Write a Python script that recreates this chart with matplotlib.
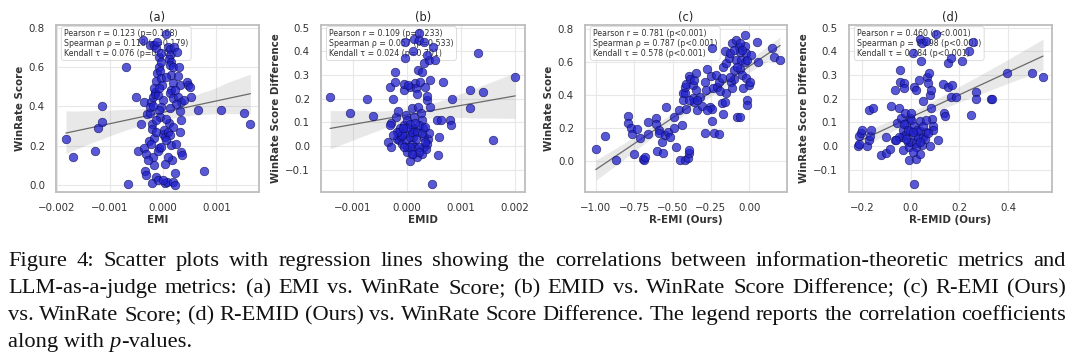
import matplotlib
matplotlib.use("Agg")
import matplotlib.pyplot as plt
import numpy as np
import seaborn as sns

sns.set_theme(style="whitegrid")
plt.rcParams["font.family"] = ["DejaVu Sans"]

# ---------------- data ----------------
# (a) EMI (x in units of 1e-3) vs WinRate Score
emi = np.array([
    -1.825, -1.70, -1.28, -1.23, -1.14, -1.14, -0.70, -0.65, -0.51, -0.48,
    -0.41, -0.375, -0.36, -0.36, -0.33, -0.34, -0.325, -0.30, -0.27, -0.25,
    -0.22, -0.24, -0.20, -0.20, -0.20, -0.19, -0.175, -0.19, -0.17, -0.125,
    -0.094, -0.25, -0.175, -0.125, -0.075, -0.03, -0.11, -0.156, -0.156, -0.17,
    -0.125, -0.106, -0.075, -0.03, -0.06, -0.044, -0.0125, 0.0, -0.04, -0.075,
    -0.06, -0.075, -0.094, -0.03, 0.0, 0.02, 0.03, 0.044, 0.03, 0.075,
    0.06, 0.094, 0.125, 0.125, 0.11, 0.144, 0.1375, 0.19, 0.156, 0.19,
    0.156, 0.1375, 0.19, 0.11, 0.094, 0.125, 0.156, 0.175, 0.19, 0.22,
    0.23, 0.206, 0.26, 0.30, 0.28, 0.31, 0.28, 0.34, 0.325, 0.34,
    0.31, 0.33, 0.36, 0.44, 0.47, 0.50, 0.53, 0.39, 0.66, 0.76,
    1.08, 1.52, 1.64, 0.24, 0.25, -0.14, -0.22, -0.125, 0.05, 0.094,
    -0.28, 0.0, 0.06, 0.19, -0.19, -0.094, -0.075, 0.06, 0.22, 0.125,
]) * 1e-3
winrate_a = np.array([
    0.231, 0.142, 0.171, 0.291, 0.320, 0.400, 0.600, 0.002, 0.450, 0.171,
    0.309, 0.740, 0.421, 0.185, 0.159, 0.068, 0.051, 0.359, 0.224, 0.364,
    0.424, 0.398, 0.009, 0.309, 0.287, 0.450, 0.241, 0.142, 0.099, 0.039,
    0.022, 0.716, 0.715, 0.697, 0.655, 0.672, 0.732, 0.475, 0.463, 0.496,
    0.530, 0.569, 0.603, 0.629, 0.583, 0.544, 0.509, 0.432, 0.398, 0.381,
    0.347, 0.185, 0.171, 0.193, 0.258, 0.279, 0.244, 0.103, 0.010, 0.014,
    0.769, 0.706, 0.692, 0.663, 0.641, 0.629, 0.612, 0.603, 0.561, 0.518,
    0.484, 0.467, 0.441, 0.313, 0.270, 0.253, 0.202, 0.125, 0.014, 0.060,
    0.000, 0.706, 0.680, 0.603, 0.556, 0.509, 0.450, 0.424, 0.376, 0.333,
    0.270, 0.168, 0.150, 0.526, 0.509, 0.501, 0.450, 0.432, 0.381, 0.070,
    0.381, 0.369, 0.309, 0.415, 0.210, 0.270, 0.210, 0.330, 0.338, 0.142,
    0.125, 0.022, 0.227, 0.296, 0.402, 0.458, 0.492, 0.552, 0.484, 0.390,
])

# (b) EMID (x in units of 1e-3) vs WinRate Score Difference
emid = np.array([
    -1.42, -1.05, -0.73, -0.62, -0.32, -0.30, -0.31, -0.34, -0.30, -0.25,
    -0.22, -0.21, -0.20, -0.17, -0.185, -0.14, -0.15, -0.12, -0.11, -0.09,
    -0.06, -0.05, -0.03, -0.03, -0.06, -0.01, 0.0, -0.03, -0.01, 0.0,
    0.01, 0.06, 0.06, 0.09, 0.11, 0.14, 0.15, 0.17, 0.185, 0.12,
    0.14, 0.11, 0.09, 0.15, 0.12, 0.185, 0.20, 0.20, 0.22, 0.235,
    0.25, 0.26, 0.28, 0.30, 0.31, 0.28, 0.32, 0.32, 0.34, 0.37,
    0.38, 0.40, 0.37, 0.36, 0.42, 0.43, 0.43, 0.42, 0.48, 0.46,
    0.52, 0.56, 0.57, 0.60, 0.63, 0.67, 0.80, 0.81, 0.83, 1.17,
    1.17, 1.31, 1.41, 1.60, 2.01, 0.05, 0.09, 0.185, 0.235, 0.06,
    -0.05, -0.09, -0.185, 0.05, 0.14, 0.28, 0.37, 0.31, 0.22, 0.34,
    0.09, 0.17, 0.01, -0.07, -0.25, 0.03, 0.22, 0.28, 0.34, 0.15,
]) * 1e-3
diff_b = np.array([
    0.208, 0.138, 0.199, 0.128, 0.251, 0.099, 0.089, 0.018, -0.003, 0.199,
    0.269, 0.311, 0.124, 0.148, 0.032, 0.061, 0.025, 0.075, 0.039, 0.011,
    0.237, 0.262, 0.370, 0.441, 0.089, 0.131, 0.110, 0.054, 0.025, -0.003,
    -0.024, -0.062, 0.251, 0.159, 0.403, 0.451, 0.265, 0.244, 0.220, 0.075,
    0.061, 0.039, 0.011, -0.003, -0.031, -0.045, 0.166, 0.321, 0.448, 0.476,
    0.272, 0.138, 0.110, 0.075, 0.039, -0.031, 0.349, -0.003, 0.251, 0.194,
    0.211, 0.032, 0.011, -0.010, 0.363, 0.279, 0.166, 0.054, 0.420, -0.161,
    0.363, 0.110, -0.038, 0.039, 0.110, 0.272, 0.110, 0.089, 0.199, 0.159,
    0.239, 0.392, 0.230, 0.028, 0.290, 0.039, 0.061, 0.061, -0.003, -0.003,
    -0.003, 0.046, 0.061, 0.093, 0.124, 0.314, 0.385, 0.441, -0.024, 0.018,
    -0.031, 0.032, 0.075, 0.075, 0.046, 0.258, 0.089, 0.054, 0.082, 0.096,
])

# (c) R-EMI (Ours) vs WinRate Score
remi = np.array([
    -1.00, -0.94, -0.87, -0.79, -0.79, -0.77, -0.765, -0.75, -0.73, -0.71,
    -0.69, -0.685, -0.68, -0.66, -0.66, -0.61, -0.61, -0.60, -0.59, -0.59,
    -0.57, -0.56, -0.55, -0.54, -0.53, -0.515, -0.49, -0.49, -0.48, -0.455,
    -0.45, -0.44, -0.43, -0.43, -0.42, -0.42, -0.41, -0.42, -0.41, -0.40,
    -0.395, -0.39, -0.395, -0.385, -0.37, -0.37, -0.36, -0.36, -0.35, -0.345,
    -0.34, -0.32, -0.31, -0.29, -0.29, -0.28, -0.275, -0.255, -0.25, -0.245,
    -0.24, -0.24, -0.23, -0.235, -0.22, -0.21, -0.20, -0.19, -0.18, -0.18,
    -0.17, -0.17, -0.16, -0.16, -0.15, -0.135, -0.125, -0.12, -0.11, -0.11,
    -0.10, -0.09, -0.09, -0.10, -0.08, -0.06, -0.07, -0.06, -0.055, -0.06,
    -0.05, -0.04, -0.03, -0.03, -0.03, -0.025, -0.015, -0.02, -0.015, -0.015,
    0.0, 0.005, 0.01, 0.05, 0.055, 0.15, 0.16, 0.20, -0.08, -0.15,
    -0.20, -0.34, -0.275, -0.06, -0.10, -0.39, -0.045, -0.125,
])
winrate_c = np.array([
    0.070, 0.150, 0.008, 0.272, 0.231, 0.197, 0.166, 0.041, 0.191, 0.142,
    0.014, 0.004, 0.024, 0.238, 0.166, 0.258, 0.223, 0.061, 0.187, 0.171,
    0.116, 0.051, 0.156, 0.329, 0.177, 0.146, 0.268, 0.197, 0.085, 0.309,
    0.008, 0.217, 0.410, 0.370, 0.414, 0.451, 0.467, 0.008, 0.313, 0.020,
    0.045, 0.069, 0.516, 0.495, 0.380, 0.461, 0.359, 0.491, 0.430, 0.536,
    0.309, 0.390, 0.333, 0.481, 0.171, 0.430, 0.556, 0.329, 0.516, 0.313,
    0.684, 0.244, 0.171, 0.441, 0.522, 0.451, 0.481, 0.426, 0.502, 0.353,
    0.288, 0.573, 0.670, 0.359, 0.593, 0.623, 0.654, 0.481, 0.441, 0.715,
    0.552, 0.735, 0.613, 0.495, 0.264, 0.264, 0.694, 0.664, 0.613, 0.556,
    0.522, 0.441, 0.765, 0.603, 0.698, 0.654, 0.613, 0.502, 0.370, 0.339,
    0.461, 0.481, 0.644, 0.725, 0.603, 0.684, 0.634, 0.613, 0.573, 0.410,
    0.166, 0.370, 0.309, 0.715, 0.674, 0.370, 0.674, 0.512,
])

# (d) R-EMID (Ours) vs WinRate Score Difference
remid = np.array([
    -0.216, -0.21, -0.212, -0.203, -0.199, -0.18, -0.171, -0.168, -0.164, -0.171,
    -0.155, -0.12, -0.103, -0.103, -0.086, -0.079, -0.066, -0.062, -0.056, -0.048,
    -0.045, -0.042, -0.038, -0.037, -0.032, -0.032, -0.027, -0.025, -0.022, -0.021,
    -0.018, -0.011, -0.008, -0.007, -0.004, -0.004, 0.0, 0.003, 0.01, 0.012,
    0.016, 0.016, 0.021, 0.021, 0.023, 0.016, 0.026, 0.03, 0.034, 0.037,
    0.037, 0.04, 0.04, 0.044, 0.048, 0.048, 0.051, 0.051, 0.058, 0.062,
    0.064, 0.067, 0.071, 0.075, 0.078, 0.081, 0.085, 0.085, 0.089, 0.092,
    0.092, 0.103, 0.112, 0.133, 0.136, 0.14, 0.153, 0.153, 0.167, 0.171,
    0.167, 0.185, 0.212, 0.24, 0.256, 0.247, 0.267, 0.27, 0.331, 0.336,
    0.397, 0.50, 0.544, -0.025, 0.003, -0.011, 0.023, 0.071, -0.048, 0.051,
    0.01, 0.037, -0.018, 0.064, -0.059, 0.01,
])
diff_d = np.array([
    0.000, 0.008, 0.042, 0.056, 0.068, 0.000, 0.025, 0.042, 0.070, 0.152,
    0.159, -0.038, -0.028, 0.039, -0.010, 0.169, 0.028, 0.237, 0.099, 0.159,
    0.321, 0.272, 0.117, 0.037, 0.068, -0.017, 0.265, 0.244, 0.141, 0.046,
    0.093, 0.018, -0.059, -0.003, 0.065, 0.117, 0.110, 0.018, 0.394, 0.046,
    0.248, 0.085, 0.239, -0.052, 0.014, -0.161, 0.070, 0.039, 0.279, 0.451,
    0.107, 0.065, -0.031, 0.361, 0.004, 0.437, 0.192, 0.037, 0.032, 0.445,
    0.061, 0.290, 0.265, 0.310, 0.000, 0.218, 0.239, 0.163, 0.113, 0.085,
    0.070, 0.473, 0.028, 0.262, 0.138, 0.127, 0.248, 0.352, 0.370, 0.258,
    0.208, 0.208, 0.361, 0.403, 0.441, 0.131, 0.230, 0.201, 0.201, 0.201,
    0.310, 0.310, 0.290, 0.093, 0.138, 0.068, -0.003, 0.054, 0.039, 0.085,
    0.061, 0.018, 0.032, 0.110, 0.028, -0.024,
])

titles = ["(a)", "(b)", "(c)", "(d)"]
xlabels = ["EMI", "EMID", "R-EMI (Ours)", "R-EMID (Ours)"]
ylabels = ["WinRate Score", "WinRate Score Difference",
           "WinRate Score", "WinRate Score Difference"]
stats_text = [
    "Pearson r = 0.123 (p=0.168)\nSpearman ρ = 0.118 (p=0.179)\nKendall τ = 0.076 (p=0.206)",
    "Pearson r = 0.109 (p=0.233)\nSpearman ρ = 0.057 (p=0.533)\nKendall τ = 0.024 (p=0.701)",
    "Pearson r = 0.781 (p<0.001)\nSpearman ρ = 0.787 (p<0.001)\nKendall τ = 0.578 (p<0.001)",
    "Pearson r = 0.460 (p<0.001)\nSpearman ρ = 0.398 (p<0.001)\nKendall τ = 0.284 (p<0.001)",
]
xticks = [[-0.002, -0.001, 0.0, 0.001],
          [-0.001, 0.0, 0.001, 0.002],
          [-1.0, -0.75, -0.5, -0.25, 0.0],
          [-0.2, 0.0, 0.2, 0.4]]
yticks = [[0.0, 0.2, 0.4, 0.6, 0.8],
          [-0.1, 0.0, 0.1, 0.2, 0.3, 0.4, 0.5],
          [0.0, 0.2, 0.4, 0.6, 0.8],
          [-0.1, 0.0, 0.1, 0.2, 0.3, 0.4, 0.5]]
xlims = [(-0.00201, 0.0018), (-0.00159, 0.00219), (-1.07, 0.245), (-0.253, 0.581)]
ylims = [(-0.038, 0.817), (-0.193, 0.511), (-0.189, 0.826), (-0.193, 0.511)]
xfmt = ["{:.3f}", "{:.3f}", "{:.2f}", "{:.1f}"]
yfmt = "{:.1f}"

datasets = [(emi, winrate_a), (emid, diff_b), (remi, winrate_c), (remid, diff_d)]

W, H = 1080, 362
fig = plt.figure(figsize=(W / 100, H / 100), dpi=100)

# axes boxes in pixels: left, right, top, bottom
boxes = [(56, 259, 25, 192), (321, 525, 25, 192),
         (585, 787, 25, 192), (849, 1052, 25, 192)]

for i, (x, y) in enumerate(datasets):
    l, r, t, b = boxes[i]
    ax = fig.add_axes([l / W, 1 - b / H, (r - l) / W, (b - t) / H])
    sns.regplot(x=x, y=y, ax=ax, ci=95, seed=0,
                scatter_kws=dict(s=38, color="#2222cc", alpha=0.75,
                                 edgecolor="#0b0b55", linewidths=0.5, zorder=3),
                line_kws=dict(color="#6a6a6a", lw=0.9, zorder=2))
    ax.set_xlim(*xlims[i])
    ax.set_ylim(*ylims[i])
    ax.set_xticks(xticks[i])
    ax.set_yticks(yticks[i])
    ax.set_xticklabels([xfmt[i].format(v).replace("-", "\u2212") for v in xticks[i]])
    ax.set_yticklabels([yfmt.format(v).replace("-", "\u2212") for v in yticks[i]])
    ax.tick_params(labelsize=7.4, colors="#333333", pad=2)
    ax.set_title(titles[i], fontsize=8.3, pad=3, color="#222222")
    ax.set_xlabel(xlabels[i], fontsize=7.4, fontweight="bold", labelpad=1.5,
                  color="#333333")
    ax.set_ylabel(ylabels[i], fontsize=7.4, fontweight="bold", labelpad=3,
                  color="#333333")
    ax.grid(True, color="#e8e8e8", lw=0.8)
    for s in ax.spines.values():
        s.set_color("#bdbdbd")
        s.set_linewidth(1.3)
    ax.text(0.04, 0.975, stats_text[i], transform=ax.transAxes, va="top",
            ha="left", fontsize=5.7, color="#333333", linespacing=1.12, zorder=1,
            bbox=dict(boxstyle="round,pad=0.35", fc="white", ec="#d0d0d0",
                      lw=0.6, alpha=0.85))

# ---------------- caption (justified) ----------------
caption_lines = [
    "Figure 4: Scatter plots with regression lines showing the correlations between information-theoretic metrics and",
    "LLM-as-a-judge metrics: (a) EMI vs. WinRate Score; (b) EMID vs. WinRate Score Difference; (c) R-EMI (Ours)",
    "vs. WinRate Score; (d) R-EMID (Ours) vs. WinRate Score Difference. The legend reports the correlation coefficients",
]
last_line = [("along with ", "normal"), ("p", "italic"), ("-values.", "normal")]
baselines = [266, 293, 320, 347]
cap_left, cap_right = 8, 1066

renderer = fig.canvas.get_renderer()


def text_width(s, size, style="normal"):
    t = fig.text(0, 0, s, style=style, family="Liberation Serif", fontsize=size)
    w = t.get_window_extent(renderer).width
    t.remove()
    return w


# pick the size at which the densest line just fits with normal spaces
ref_size = 10.0
widest = max(text_width(line, ref_size) for line in caption_lines)
cap_size = ref_size * (cap_right - cap_left) / widest * 0.995
cap_font = dict(family="Liberation Serif", fontsize=cap_size, color="#111111")

for line, base in zip(caption_lines, baselines):
    words = line.split(" ")
    widths = [text_width(w, cap_size) for w in words]
    gap = (cap_right - cap_left - sum(widths)) / (len(words) - 1)
    xpos = cap_left
    for w, wd in zip(words, widths):
        fig.text(xpos / W, 1 - base / H, w, va="baseline", ha="left", **cap_font)
        xpos += wd + gap

xpos = cap_left
for seg, style in last_line:
    fig.text(xpos / W, 1 - baselines[3] / H, seg, va="baseline", ha="left",
             style=style, **cap_font)
    xpos += text_width(seg, cap_size, style)

fig.savefig("out.png", dpi=100)
